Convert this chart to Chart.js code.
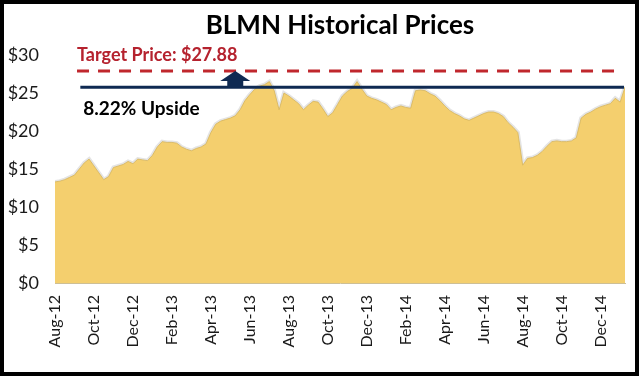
<!DOCTYPE html>
<html>
<head>
<meta charset="utf-8">
<script src="https://cdn.jsdelivr.net/npm/chart.js@4.4.1/dist/chart.umd.min.js"></script>
<style>
  html, body { margin: 0; padding: 0; background: #fff; }
  #marco { width: 639px; height: 376px; box-sizing: border-box; border: 4px solid #000; }
  canvas { display: block; }
</style>
</head>
<body>
<div id="marco"><canvas id="graficaPrecios" width="631" height="368"></canvas></div>
<script>
// Etiquetas del eje X: una cada 2 meses, empezando en Aug-12
const etiquetasMeses = ['Aug-12', 'Oct-12', 'Dec-12', 'Feb-13', 'Apr-13', 'Jun-13', 'Aug-13',
  'Oct-13', 'Dec-13', 'Feb-14', 'Apr-14', 'Jun-14', 'Aug-14', 'Oct-14', 'Dec-14'];

// Precio de BLMN, una lectura aprox. cada semana (0.25 meses) desde ago-2012
const precios = [
  13.3, 13.4, 13.6, 13.9, 14.2, 15.0, 15.8, 16.3, 15.4, 14.5,
  13.6, 14.0, 15.2, 15.4, 15.6, 16.0, 15.7, 16.3, 16.2, 16.1,
  16.8, 17.9, 18.6, 18.5, 18.5, 18.4, 17.9, 17.6, 17.4, 17.7,
  17.9, 18.3, 19.8, 20.9, 21.3, 21.5, 21.7, 22.0, 22.8, 24.0,
  24.8, 25.5, 25.9, 26.1, 26.5, 25.3, 22.8, 25.0, 24.6, 24.1,
  23.6, 22.8, 23.4, 23.9, 23.8, 22.9, 21.9, 22.4, 23.5, 24.6,
  25.2, 25.6, 26.5, 25.5, 24.6, 24.3, 24.1, 23.8, 23.5, 22.8,
  23.1, 23.3, 23.1, 23.0, 25.3, 25.4, 25.3, 24.9, 24.6, 24.0,
  23.3, 22.7, 22.3, 22.0, 21.6, 21.4, 21.7, 22.0, 22.3, 22.5,
  22.5, 22.3, 21.9, 21.1, 20.5, 19.8, 15.5, 16.4, 16.5, 16.8,
  17.3, 18.0, 18.6, 18.7, 18.6, 18.6, 18.7, 19.1, 21.7, 22.2,
  22.5, 22.9, 23.2, 23.4, 23.6, 24.3, 23.8, 25.76
];
const pasoMeses = 0.25;

const precioObjetivo = 27.88;
const precioActual = 25.76;
const textoObjetivo = 'Target Price: $27.88';
const textoUpside = '8.22% Upside';

// puntos {x: mes, y: precio}
const serie = precios.map((p, i) => ({ x: i * pasoMeses, y: p }));
const ultimoMes = (precios.length - 1) * pasoMeses;

// Flecha y textos de la anotación
const anotaciones = {
  id: 'anotaciones',
  afterDatasetsDraw(chart) {
    const { ctx, scales: { x, y } } = chart;
    const cx = x.getPixelForValue(9.25);
    const yTop = y.getPixelForValue(precioObjetivo);
    const yBase = y.getPixelForValue(precioActual);
    ctx.save();
    ctx.fillStyle = '#0f2a52';
    ctx.beginPath();
    ctx.moveTo(cx, yTop);
    ctx.lineTo(cx + 15, yTop + 10);
    ctx.lineTo(cx + 8, yTop + 10);
    ctx.lineTo(cx + 8, yBase);
    ctx.lineTo(cx - 8, yBase);
    ctx.lineTo(cx - 8, yTop + 10);
    ctx.lineTo(cx - 15, yTop + 10);
    ctx.closePath();
    ctx.fill();

    ctx.textBaseline = 'middle';
    ctx.textAlign = 'left';
    ctx.font = 'bold 18px Lato';
    ctx.fillStyle = '#b5222e';
    ctx.fillText(textoObjetivo, x.getPixelForValue(1.13), yTop - 16);
    ctx.font = 'bold 19px Lato';
    ctx.fillStyle = '#000';
    ctx.fillText(textoUpside, x.getPixelForValue(1.45), yBase + 22);
    ctx.restore();
  }
};

Chart.defaults.font.family = 'Lato';
Chart.defaults.color = '#1a1a1a';

const ctx = document.getElementById('graficaPrecios').getContext('2d');
new Chart(ctx, {
  type: 'line',
  data: {
    datasets: [
      {
        // linea objetivo (discontinua)
        data: [{ x: 1.13, y: precioObjetivo }, { x: 28.8, y: precioObjetivo }],
        borderColor: '#c0272d',
        borderWidth: 3,
        borderDash: [12, 9],
        pointRadius: 0,
        order: 1
      },
      {
        // precio actual
        data: [{ x: 1.3, y: precioActual }, { x: 29.2, y: precioActual }],
        borderColor: '#0f2a52',
        borderWidth: 3,
        pointRadius: 0,
        order: 1
      },
      {
        // area de precios
        data: serie,
        fill: 'origin',
        backgroundColor: '#f4cf6e',
        borderColor: 'rgba(214,180,90,0.8)',
        borderWidth: 1,
        pointRadius: 0,
        tension: 0,
        order: 2
      },
      {
        // sombra suave del borde
        data: serie,
        fill: false,
        borderColor: 'rgba(120,120,120,0.2)',
        borderWidth: 4,
        pointRadius: 0,
        order: 3
      }
    ]
  },
  options: {
    responsive: false,
    animation: false,
    layout: { padding: { right: 10, left: 0, bottom: 0 } },
    plugins: {
      legend: { display: false },
      tooltip: { enabled: false },
      title: {
        display: true,
        text: 'BLMN Historical Prices',
        fullSize: false,
        color: '#000',
        font: { size: 26, weight: 'bold', lineHeight: 1.2 },
        padding: { top: 6, bottom: 13.8 }
      }
    },
    scales: {
      x: {
        type: 'linear',
        min: 0,
        max: ultimoMes,
        grid: { display: false, drawTicks: false },
        border: { display: true, color: '#cdbf95', width: 1 },
        afterFit: s => { s.height = 89; },
        ticks: {
          stepSize: 2,
          includeBounds: false,
          autoSkip: false,
          minRotation: 90,
          maxRotation: 90,
          padding: 12,
          font: { size: 16 },
          callback: v => etiquetasMeses[v / 2] || ''
        }
      },
      y: {
        min: 0,
        max: 30,
        grid: { display: false, drawTicks: false },
        border: { display: false },
        afterFit: s => { s.width = 51; },
        ticks: {
          stepSize: 5,
          padding: 16,
          font: { size: 18 },
          callback: v => '$' + v
        }
      }
    }
  },
  plugins: [anotaciones]
});
</script>
</body>
</html>
